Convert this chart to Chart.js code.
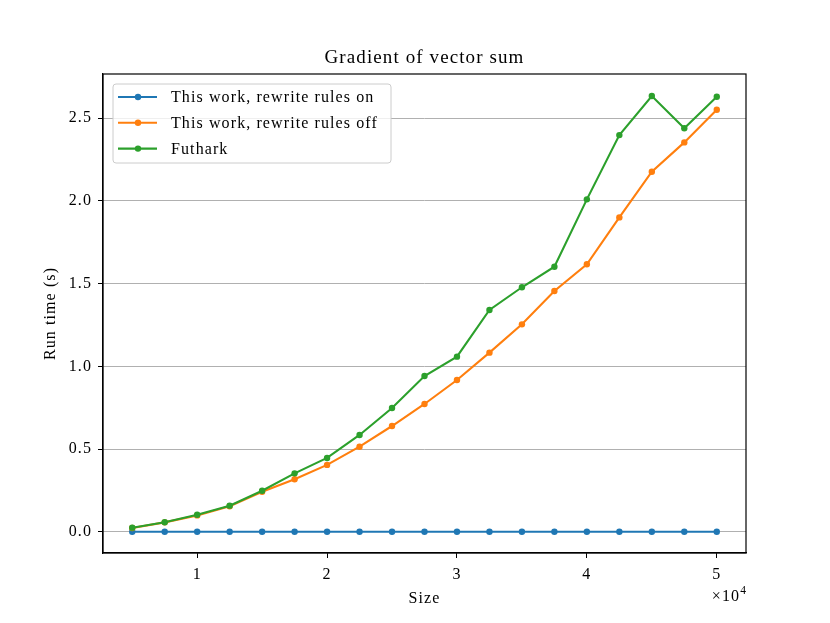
<!DOCTYPE html>
<html>
<head>
<meta charset="utf-8">
<script src="https://cdn.jsdelivr.net/npm/chart.js@4.4.1/dist/chart.umd.min.js"></script>
<style>
  html, body { margin: 0; padding: 0; background: #fff; }
  #wrap { width: 830px; height: 623px; }
</style>
</head>
<body>
<div id="wrap"><canvas id="chart" width="830" height="623"></canvas></div>
<script>
// problem sizes
const sizes = [5000, 7500, 10000, 12500, 15000, 17500, 20000, 22500, 25000, 27500,
               30000, 32500, 35000, 37500, 40000, 42500, 45000, 47500, 50000];

// run times in seconds
const rulesOn = [0.001, 0.001, 0.001, 0.001, 0.001, 0.001, 0.001, 0.001, 0.001, 0.001,
                 0.001, 0.001, 0.001, 0.001, 0.001, 0.001, 0.001, 0.001, 0.001];
const rulesOff = [0.024, 0.058, 0.100, 0.155, 0.243, 0.318, 0.405, 0.515, 0.640, 0.773,
                  0.918, 1.083, 1.254, 1.455, 1.617, 1.900, 2.176, 2.353, 2.550];
const futhark = [0.026, 0.059, 0.104, 0.159, 0.249, 0.354, 0.447, 0.586, 0.749, 0.942,
                 1.059, 1.341, 1.478, 1.602, 2.009, 2.397, 2.633, 2.438, 2.629];

const seriesNames = ['This work, rewrite rules on', 'This work, rewrite rules off', 'Futhark'];
const seriesColors = ['#1f77b4', '#ff7f0e', '#2ca02c'];

const xTicks = [10000, 20000, 30000, 40000, 50000];
const yTicks = [0.0, 0.5, 1.0, 1.5, 2.0, 2.5];

const FONT = '"Liberation Serif", "DejaVu Serif", serif';
const SPACING = '1.1px';

function points(ys) {
    return sizes.map((x, i) => ({ x: x, y: ys[i] }));
}

function makeSet(i, ys, order) {
    return {
        label: seriesNames[i],
        data: points(ys),
        borderColor: seriesColors[i],
        backgroundColor: seriesColors[i],
        borderWidth: 2.1,
        pointRadius: 3.2,
        pointHoverRadius: 3.2,
        pointBorderWidth: 0,
        tension: 0,
        order: order
    };
}

// the Computer Modern text in the original runs wider than Times
const spacing = {
    id: 'spacing',
    beforeDraw(chart) {
        if ('letterSpacing' in chart.ctx) chart.ctx.letterSpacing = SPACING;
    }
};

// frame, in-plot legend and the x10^4 offset label
const extras = {
    id: 'extras',
    afterDatasetsDraw(chart) {
        const { ctx, chartArea: a } = chart;
        ctx.save();

        // legend box
        const bx = a.left + 10, by = a.top + 10, bw = 278, bh = 79;
        ctx.beginPath();
        ctx.roundRect(bx, by, bw, bh, 3);
        ctx.fillStyle = 'rgba(255,255,255,0.8)';
        ctx.fill();
        ctx.strokeStyle = '#cccccc';
        ctx.lineWidth = 1;
        ctx.stroke();

        ctx.font = '16px ' + FONT;
        ctx.textBaseline = 'middle';
        ctx.textAlign = 'left';
        chart.data.datasets.forEach((ds, i) => {
            const y = by + 13 + i * 25.8;
            ctx.strokeStyle = ds.borderColor;
            ctx.lineWidth = 2.1;
            ctx.beginPath();
            ctx.moveTo(bx + 5, y);
            ctx.lineTo(bx + 44, y);
            ctx.stroke();
            ctx.fillStyle = ds.borderColor;
            ctx.beginPath();
            ctx.arc(bx + 25, y, 3.2, 0, Math.PI * 2);
            ctx.fill();
            ctx.fillStyle = '#000';
            ctx.fillText(ds.label, bx + 58, y + 1);
        });

        // full frame
        ctx.strokeStyle = '#000';
        ctx.lineWidth = 1.2;
        ctx.strokeRect(a.left, a.top, a.right - a.left, a.bottom - a.top);

        // offset label
        ctx.fillStyle = '#000';
        ctx.textBaseline = 'alphabetic';
        ctx.textAlign = 'right';
        ctx.font = '11.5px ' + FONT;
        ctx.fillText('4', a.right + 1, 594);
        const w4 = ctx.measureText('4').width;
        ctx.font = '16px ' + FONT;
        ctx.fillText('\u00d710', a.right + 1 - w4, 601);
        ctx.restore();
    }
};

const chart = new Chart(document.getElementById('chart'), {
    type: 'line',
    data: {
        datasets: [
            makeSet(0, rulesOn, 2),
            makeSet(1, rulesOff, 1),
            makeSet(2, futhark, 0)
        ]
    },
    options: {
        responsive: false,
        animation: false,
        events: [],
        layout: { padding: { left: 0, right: 84, top: 0, bottom: 0 } },
        plugins: {
            legend: { display: false },
            tooltip: { enabled: false },
            title: {
                display: true,
                text: 'Gradient of vector sum',
                fullSize: false,
                color: '#000',
                font: { family: FONT, size: 19, weight: 'normal' },
                padding: { top: 46.5, bottom: 4.7 }
            }
        },
        scales: {
            x: {
                type: 'linear',
                min: 2750,
                max: 52250,
                afterFit(s) { s.height = 70; },
                afterBuildTicks(s) { s.ticks = xTicks.map(v => ({ value: v })); },
                grid: {
                    drawOnChartArea: false,
                    drawTicks: true,
                    tickLength: 5,
                    tickColor: '#000',
                    tickWidth: 1
                },
                border: { display: true, color: '#000', width: 1.2 },
                ticks: {
                    color: '#000',
                    padding: 7,
                    maxRotation: 0,
                    font: { family: FONT, size: 16 },
                    callback: v => String(v / 10000)
                },
                title: {
                    display: true,
                    text: 'Size',
                    color: '#000',
                    font: { family: FONT, size: 16 },
                    padding: { top: 0, bottom: 15 }
                }
            },
            y: {
                type: 'linear',
                min: -0.127,
                max: 2.766,
                afterFit(s) { s.width = 103; },
                afterBuildTicks(s) { s.ticks = yTicks.map(v => ({ value: v })); },
                grid: {
                    drawOnChartArea: true,
                    color: '#b0b0b0',
                    lineWidth: 1,
                    drawTicks: true,
                    tickLength: 5,
                    tickColor: '#000',
                    tickWidth: 1
                },
                border: { display: true, color: '#000', width: 1.2 },
                ticks: {
                    color: '#000',
                    padding: 6,
                    font: { family: FONT, size: 16 },
                    callback: v => v.toFixed(1)
                },
                title: {
                    display: true,
                    text: 'Run time (s)',
                    color: '#000',
                    font: { family: FONT, size: 16 },
                    padding: { top: 41, bottom: 0 }
                }
            }
        }
    },
    plugins: [spacing, extras]
});
</script>
</body>
</html>
